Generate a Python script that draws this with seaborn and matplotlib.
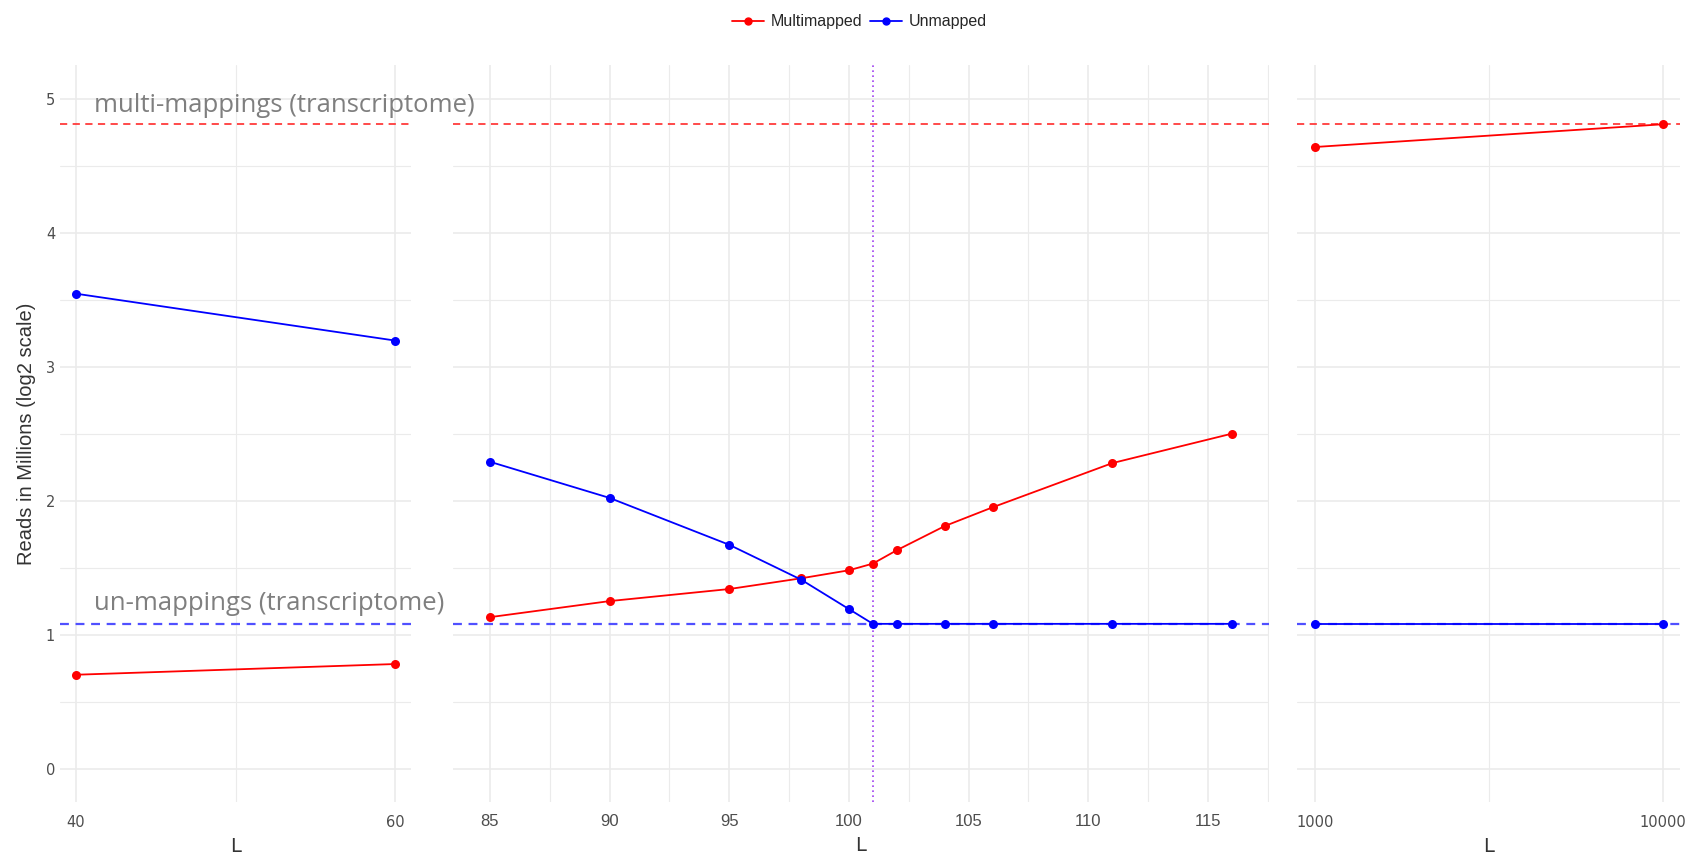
import numpy as np
import pandas as pd
import seaborn as sns
import matplotlib.pyplot as plt
from matplotlib.lines import Line2D
from matplotlib.ticker import FixedLocator, NullFormatter

# ---- data ----
L_left = [40, 60]
multi_left = [0.70, 0.78]
unmap_left = [3.545, 3.195]

L_mid = [85, 90, 95, 98, 100, 101, 102, 104, 106, 111, 116]
multi_mid = [1.13, 1.25, 1.34, 1.42, 1.48, 1.53, 1.63, 1.81, 1.95, 2.28, 2.50]
unmap_mid = [2.29, 2.02, 1.67, 1.41, 1.19, 1.08, 1.08, 1.08, 1.08, 1.08, 1.08]

L_right = [1000, 10000]
multi_right = [4.64, 4.81]
unmap_right = [1.08, 1.08]

multi_ref = 4.81
unmap_ref = 1.08
cutoff_L = 101

series_names = ["Multimapped", "Unmapped"]
palette = {"Multimapped": "#ff0000", "Unmapped": "#0000ff"}


def make_df(L, m, u):
    return pd.DataFrame({
        "L": list(L) + list(L),
        "value": list(m) + list(u),
        "type": ["Multimapped"] * len(L) + ["Unmapped"] * len(L),
    })


sns.set_theme(style="white")
plt.rcParams["font.family"] = ["Liberation Sans", "DejaVu Sans"]

fig = plt.figure(figsize=(17.02, 8.55), dpi=100)

bottom = 0.062
height = 0.8616
ax_l = fig.add_axes([0.03525, bottom, 0.2063, height])
ax_m = fig.add_axes([0.2661, bottom, 0.4795, height])
ax_r = fig.add_axes([0.7622, bottom, 0.2251, height])

grid_c = "#ebebeb"

panels = [
    (ax_l, make_df(L_left, multi_left, unmap_left)),
    (ax_m, make_df(L_mid, multi_mid, unmap_mid)),
    (ax_r, make_df(L_right, multi_right, unmap_right)),
]

for ax, df in panels:
    if ax is ax_r:
        ax.set_xscale("log")
    ax.axhline(multi_ref, color="#ff3b3b", linestyle=(0, (4, 3)), linewidth=1.3, zorder=2)
    ax.axhline(unmap_ref, color="#5050ff", linestyle=(0, (4, 3)), linewidth=1.6, zorder=2)
    sns.lineplot(data=df, x="L", y="value", hue="type", palette=palette,
                 marker="o", markersize=6.5, markeredgewidth=0, linewidth=1.3,
                 legend=False, ax=ax, zorder=3)
    ax.set_ylim(-0.25, 5.25)
    ax.set_yticks([0, 1, 2, 3, 4, 5])
    ax.yaxis.set_minor_locator(FixedLocator([0.5, 1.5, 2.5, 3.5, 4.5]))
    ax.grid(True, which="major", color=grid_c, linewidth=1.2)
    ax.grid(True, which="minor", color=grid_c, linewidth=0.8)
    ax.set_axisbelow(True)
    for s in ax.spines.values():
        s.set_visible(False)
    ax.tick_params(axis="both", which="both", length=0, colors="#4d4d4d", labelsize=10.5)
    ax.tick_params(axis="x", pad=9.5)
    ax.set_xlabel("L", fontsize=14, color="#333333", labelpad=5,
                  family=["DejaVu Sans"])
    ax.set_ylabel("")

# left panel
ax_l.set_xlim(39, 61)
ax_l.set_xticks([40, 60])
ax_l.xaxis.set_minor_locator(FixedLocator([50]))
ax_l.set_ylabel("Reads in Millions (log2 scale)", fontsize=14.5, color="#333333", labelpad=7)
for t in ax_l.get_xticklabels() + ax_l.get_yticklabels():
    t.set_family(["DejaVu Sans"])

# middle panel
ax_m.set_xlim(83.45, 117.55)
ax_m.set_xticks([85, 90, 95, 100, 105, 110, 115])
ax_m.xaxis.set_minor_locator(FixedLocator([87.5, 92.5, 97.5, 102.5, 107.5, 112.5, 117.5]))
ax_m.set_yticklabels([])
ax_m.tick_params(axis="x", labelsize=12, pad=8.5)
ax_m.axvline(cutoff_L, color="#a040f0", linestyle=(0, (1, 2)), linewidth=1.2, zorder=2)

# right panel
ax_r.set_xlim(10 ** 2.95, 10 ** 4.05)
ax_r.xaxis.set_major_locator(FixedLocator([1000, 10000]))
ax_r.set_xticklabels(["1000", "10000"])
ax_r.xaxis.set_minor_locator(FixedLocator([10 ** 3.5]))
ax_r.xaxis.set_minor_formatter(NullFormatter())
ax_r.set_yticklabels([])
for t in ax_r.get_xticklabels():
    t.set_family(["DejaVu Sans"])

# annotations
fig.text(0.0552, 0.877, "multi-mappings (transcriptome)", fontsize=18.5,
         color="#7f7f7f", family=["Open Sans", "DejaVu Sans"], va="center", ha="left")
fig.text(0.0552, 0.294, "un-mappings (transcriptome)", fontsize=18.5,
         color="#7f7f7f", family=["Open Sans", "DejaVu Sans"], va="center", ha="left")

# legend
handles = [Line2D([0], [0], color=palette[n], marker="o", markersize=5, linewidth=1.3)
           for n in series_names]
fig.legend(handles, series_names, loc="upper center", bbox_to_anchor=(0.505, 1.0),
           ncol=2, frameon=False, fontsize=11.5, handlelength=2.0,
           columnspacing=0.5, handletextpad=0.4)

fig.savefig("out.png", dpi=100)
